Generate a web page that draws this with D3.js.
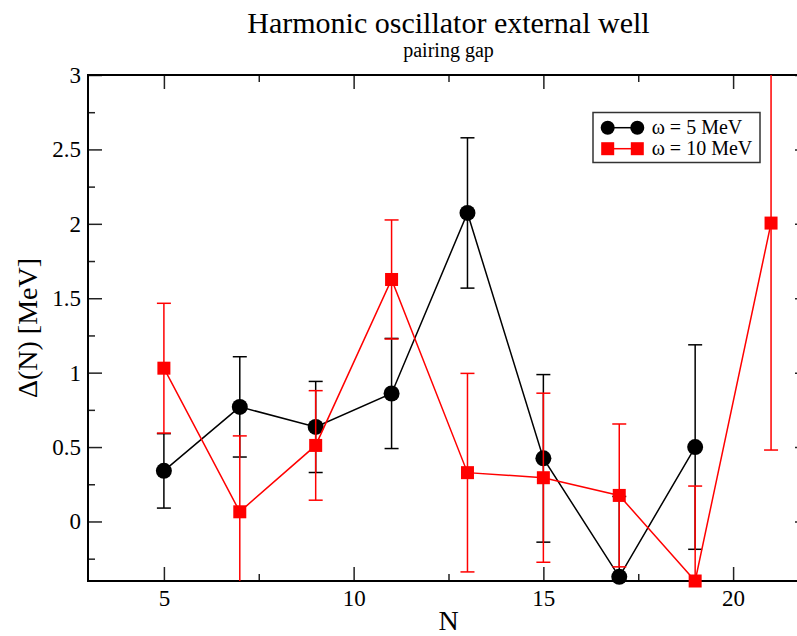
<!DOCTYPE html>
<html>
<head>
<meta charset="utf-8">
<script src="https://cdn.jsdelivr.net/npm/d3@7"></script>
<style>
  body { margin: 0; background: #fff; }
  svg { display: block; font-family: "Liberation Serif", "Times New Roman", serif; }
</style>
</head>
<body>
<svg id="chart" width="797" height="636"></svg>
<script>
// omega = 5 MeV
const nVals5 = [5, 7, 9, 11, 13, 15, 17, 19];
const gap5 = [0.34, 0.77, 0.635, 0.86, 2.073, 0.424, -0.372, 0.50];
const err5 = [0.25, 0.337, 0.306, 0.37, 0.505, 0.563, 0.54, 0.687];
// omega = 10 MeV
const nVals10 = [5, 7, 9, 11, 13, 15, 17, 19, 21];
const gap10 = [1.03, 0.065, 0.511, 1.626, 0.328, 0.294, 0.175, -0.40, 2.005];
const err10 = [0.436, 0.51, 0.368, 0.40, 0.667, 0.568, 0.48, 0.638, 1.525];

const xMajor = [5, 10, 15, 20];
const xMinor = [7.5, 12.5, 17.5];
const yMajor = [0, 0.5, 1, 1.5, 2, 2.5, 3];
const yMinor = [-0.25, 0.25, 0.75, 1.25, 1.75, 2.25, 2.75];

const seriesNames = ["ω = 5 MeV", "ω = 10 MeV"];

let svg = d3.select("#chart");
let pL = 88, pT = 75, pR = 809, pB = 581;

let x = d3.scaleLinear().domain([3, 22]).range([pL, pR]);
let y = d3.scaleLinear().domain([-0.4, 3]).range([pB, pT]);

// clip for lines and error bars
svg.append("defs").append("clipPath").attr("id", "clip")
    .append("rect")
    .attr("x", pL).attr("y", pT)
    .attr("width", pR - pL).attr("height", pB - pT);

// axes, ticks pointing inward on all sides
function styleAxis(g) {
    g.attr("font-family", "Liberation Serif");
    g.select(".domain").remove();
    g.selectAll(".tick line").attr("stroke", "#222").attr("stroke-width", 1.5);
}

svg.append("g")
    .attr("transform", `translate(0,${pB})`)
    .call(d3.axisBottom(x).tickValues(xMajor).tickSize(-14).tickPadding(9).tickFormat(d3.format("d")))
    .call(styleAxis)
    .selectAll("text").attr("font-size", 23).attr("fill", "#000");
svg.append("g")
    .attr("transform", `translate(0,${pB})`)
    .call(d3.axisBottom(x).tickValues(xMinor).tickSize(-7).tickFormat(""))
    .call(styleAxis);
svg.append("g")
    .attr("transform", `translate(0,${pT})`)
    .call(d3.axisTop(x).tickValues(xMajor).tickSize(-14).tickFormat(""))
    .call(styleAxis);
svg.append("g")
    .attr("transform", `translate(0,${pT})`)
    .call(d3.axisTop(x).tickValues(xMinor).tickSize(-7).tickFormat(""))
    .call(styleAxis);

svg.append("g")
    .attr("transform", `translate(${pL},0)`)
    .call(d3.axisLeft(y).tickValues(yMajor).tickSize(-14).tickPadding(7).tickFormat(d => String(d)))
    .call(styleAxis)
    .selectAll("text").attr("font-size", 23).attr("fill", "#000");
svg.append("g")
    .attr("transform", `translate(${pL},0)`)
    .call(d3.axisLeft(y).tickValues(yMinor).tickSize(-7).tickFormat(""))
    .call(styleAxis);
svg.append("g")
    .attr("transform", `translate(${pR},0)`)
    .call(d3.axisRight(y).tickValues(yMajor).tickSize(-14).tickFormat(""))
    .call(styleAxis);
svg.append("g")
    .attr("transform", `translate(${pR},0)`)
    .call(d3.axisRight(y).tickValues(yMinor).tickSize(-7).tickFormat(""))
    .call(styleAxis);

// frame
svg.append("rect")
    .attr("x", pL).attr("y", pT)
    .attr("width", pR - pL).attr("height", pB - pT)
    .attr("fill", "none").attr("stroke", "#000").attr("stroke-width", 2);

// draw one data set: line, error bars, markers
function drawSet(nVals, vals, errs, color, shape) {
    let pts = nVals.map((n, i) => ({ n: n, v: vals[i], e: errs[i] }));
    let g = svg.append("g");
    let clipped = g.append("g").attr("clip-path", "url(#clip)");

    clipped.append("path")
        .datum(pts)
        .attr("fill", "none")
        .attr("stroke", color)
        .attr("stroke-width", 1.5)
        .attr("d", d3.line().x(d => x(d.n)).y(d => y(d.v)));

    let eb = clipped.selectAll(".err").data(pts).enter().append("g")
        .attr("stroke", color).attr("stroke-width", 1.5);
    eb.append("line")
        .attr("x1", d => x(d.n)).attr("x2", d => x(d.n))
        .attr("y1", d => y(d.v - d.e)).attr("y2", d => y(d.v + d.e));
    eb.append("line")
        .attr("x1", d => x(d.n) - 7).attr("x2", d => x(d.n) + 7)
        .attr("y1", d => y(d.v + d.e)).attr("y2", d => y(d.v + d.e));
    eb.append("line")
        .attr("x1", d => x(d.n) - 7).attr("x2", d => x(d.n) + 7)
        .attr("y1", d => y(d.v - d.e)).attr("y2", d => y(d.v - d.e));

    if (shape === "circle") {
        g.selectAll(".mk").data(pts).enter().append("circle")
            .attr("cx", d => x(d.n)).attr("cy", d => y(d.v))
            .attr("r", 8).attr("fill", color);
    } else {
        g.selectAll(".mk").data(pts).enter().append("rect")
            .attr("x", d => x(d.n) - 6.5).attr("y", d => y(d.v) - 6.5)
            .attr("width", 13).attr("height", 13).attr("fill", color);
    }
}

drawSet(nVals5, gap5, err5, "#000", "circle");
drawSet(nVals10, gap10, err10, "#ff0000", "square");

// legend
let lg = svg.append("g");
lg.append("rect")
    .attr("x", 593).attr("y", 112.5).attr("width", 167).attr("height", 50)
    .attr("fill", "#fff").attr("stroke", "#333").attr("stroke-width", 1.5);
const legendColors = ["#000", "#ff0000"];
seriesNames.forEach((name, i) => {
    let ly = 127.7 + i * 21;
    lg.append("line")
        .attr("x1", 607.7).attr("x2", 637.3).attr("y1", ly).attr("y2", ly)
        .attr("stroke", legendColors[i]).attr("stroke-width", 1.5);
    [607.7, 637.3].forEach(cx => {
        if (i === 0) {
            lg.append("circle").attr("cx", cx).attr("cy", ly).attr("r", 7).attr("fill", legendColors[i]);
        } else {
            lg.append("rect").attr("x", cx - 6.5).attr("y", ly - 6.5)
                .attr("width", 13).attr("height", 13).attr("fill", legendColors[i]);
        }
    });
    lg.append("text")
        .attr("x", 651.7).attr("y", ly + 6)
        .attr("font-size", 20)
        .text(name);
});

// titles
let cx = (pL + pR) / 2;
svg.append("text")
    .attr("x", cx).attr("y", 33)
    .attr("text-anchor", "middle").attr("font-size", 30)
    .text("Harmonic oscillator external well");
svg.append("text")
    .attr("x", cx).attr("y", 57)
    .attr("text-anchor", "middle").attr("font-size", 20)
    .text("pairing gap");

// axis labels
svg.append("text")
    .attr("x", cx).attr("y", 630)
    .attr("text-anchor", "middle").attr("font-size", 28)
    .text("N");
svg.append("text")
    .attr("transform", `translate(37,${(pT + pB) / 2}) rotate(-90)`)
    .attr("text-anchor", "middle").attr("font-size", 28)
    .text("Δ(N) [MeV]");
</script>
</body>
</html>
